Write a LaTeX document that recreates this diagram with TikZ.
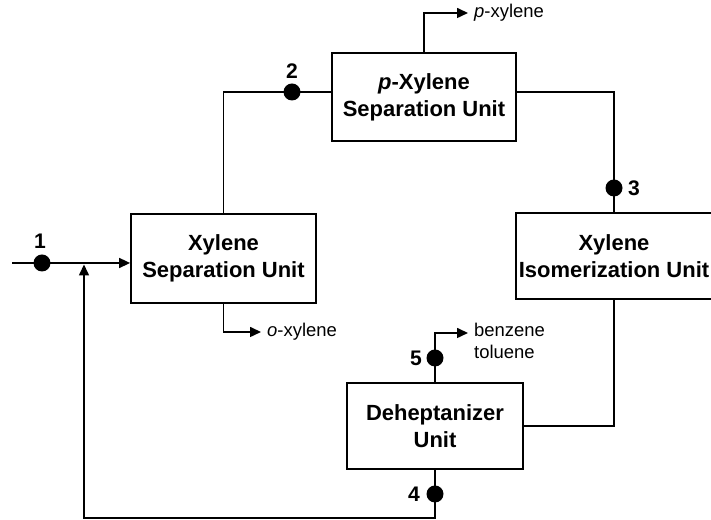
\documentclass[tikz,border=0pt]{standalone}
\usepackage{fontspec}
\setmainfont{Liberation Sans}
\usetikzlibrary{arrows.meta}

\begin{document}
\begin{tikzpicture}[
	unit/.style={draw, line width=1pt, align=center, inner sep=0pt,
		font=\fontsize{12.5}{15.5}\selectfont\bfseries},
	flow/.style={line width=0.9pt},
	arr/.style={flow, -{Triangle[length=0.22cm,width=0.2cm]}},
	dot/.style={circle, fill, inner sep=0pt, minimum size=0.34cm},
	num/.style={font=\fontsize{12}{14}\selectfont\bfseries},
	prod/.style={anchor=west, align=left, font=\fontsize{10.5}{12.5}\selectfont}
	]
		\useasboundingbox (0,0) rectangle (14.22,10.4);
		% units
		\node[unit, minimum width=3.7cm, minimum height=1.78cm] (xsep) at (4.47,5.23) {Xylene\\Separation Unit};
		\node[unit, minimum width=3.68cm, minimum height=1.76cm] (pxsep) at (8.48,8.46) {\textit{p}-Xylene\\Separation Unit};
		\node[unit, minimum width=3.92cm, minimum height=1.72cm] (isom) at (12.28,5.28) {Xylene\\Isomerization Unit};
		\node[unit, minimum width=3.52cm, minimum height=1.72cm] (dehep) at (8.70,1.88) {Deheptanizer\\Unit};
		% products
		\node[prod] (px) at (9.36,10.14) {\textit{p}-xylene};
		\node[prod] (ox) at (5.22,3.76) {\textit{o}-xylene};
		\node[prod] (bt) at (9.36,3.59) {benzene\\toluene};
		% turning points
		\coordinate (in) at (0.24,5.14);
		\coordinate (c2) at (4.47,8.56);
		\coordinate (c3) at (12.28,8.56);
		\coordinate (c5) at (8.70,3.74);
		\coordinate (r) at (1.68,0.04);
		% streams
		\draw[arr] (in) -- (in -| xsep.west);
		\draw[flow] (xsep.north) -- (c2) -- (c2 -| pxsep.west);
		\draw[flow] (c2 -| pxsep.east) -- (c3) -- (isom.north);
		\draw[flow] (isom.south) |- (dehep.east);
		\draw[arr] (dehep.south) |- (r) -- ([yshift=-0.03cm]r |- in);
		\draw[arr] (dehep.north) -- (c5) -- (c5 -| bt.west);
		\draw[arr] (pxsep.north) |- (px.west);
		\draw[arr] (xsep.south) |- (ox.west);
		% stream points
		\node[dot] (d1) at (0.84,5.14) {};
		\node[dot] (d2) at (5.84,8.56) {};
		\node[dot] (d3) at (12.28,6.64) {};
		\node[dot] (d4) at (8.70,0.52) {};
		\node[dot] (d5) at (8.70,3.24) {};
		\node[num] (n1) at (0.80,5.58) {1};
		\node[num] (n2) at (5.84,8.98) {2};
		\node[num] (n3) at (12.68,6.64) {3};
		\node[num] (n4) at (8.28,0.52) {4};
		\node[num] (n5) at (8.32,3.24) {5};
\end{tikzpicture}
\end{document}
